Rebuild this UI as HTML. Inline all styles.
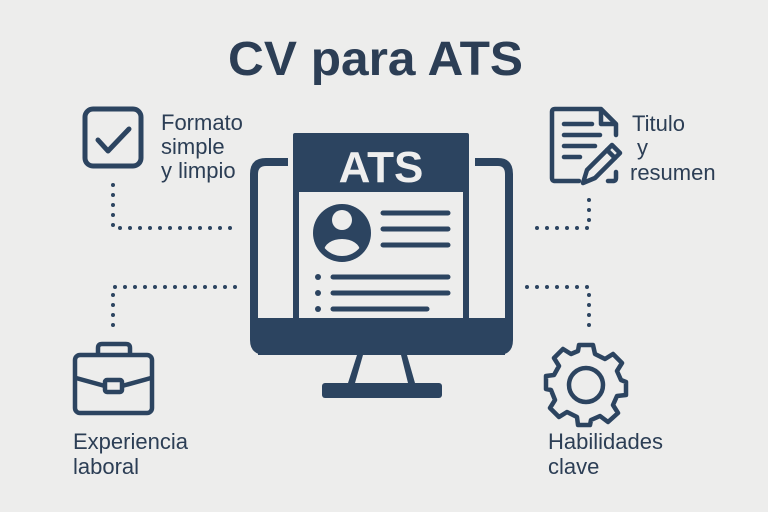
<!DOCTYPE html>
<html><head><meta charset="utf-8"><style>
html,body{margin:0;padding:0;background:#ededec;}
svg{display:block;}
text{font-family:"Liberation Sans",sans-serif;fill:#2c3e55;}
</style></head><body>
<svg width="768" height="512" viewBox="0 0 768 512" xmlns="http://www.w3.org/2000/svg">
<rect width="768" height="512" fill="#ededec"/>
<text x="228" y="75" font-size="48" font-weight="bold" textLength="295" lengthAdjust="spacingAndGlyphs">CV para ATS</text>

<!-- monitor -->
<g fill="#2c4460" stroke="none">
  <path d="M288 158 H266 Q250 158 250 174 V340 Q250 355 266 355 H498 Q513 355 513 340 V174 Q513 158 498 158 H475 V166 H498 Q505 166 505 174 V318 H258 V174 Q258 166 266 166 H288 Z"/>
  <rect x="258" y="318" width="247" height="37"/>
  <polygon points="357,355 363,355 355,383 348,383"/>
  <polygon points="401,355 407,355 415,383 408,383"/>
  <rect x="322" y="383" width="120" height="15" rx="3"/>
  <path d="M295 133 H467 Q469 133 469 135 V318 H463 V192 H299 V318 H293 V135 Q293 133 295 133 Z"/>
  <circle cx="342" cy="233" r="29"/>
</g>
<text x="381" y="182" font-size="44" font-weight="bold" text-anchor="middle" style="fill:#eeeeee">ATS</text>
<clipPath id="av"><circle cx="342" cy="233" r="23"/></clipPath>
<g fill="#ededec">
  <circle cx="342" cy="220" r="10"/>
  <ellipse cx="342" cy="251" rx="18" ry="12" clip-path="url(#av)"/>
</g>
<g stroke="#2c4460" stroke-width="5" stroke-linecap="round">
  <line x1="383" y1="213" x2="448" y2="213"/>
  <line x1="383" y1="229" x2="448" y2="229"/>
  <line x1="383" y1="245" x2="448" y2="245"/>
  <line x1="333" y1="277" x2="448" y2="277"/>
  <line x1="333" y1="293" x2="448" y2="293"/>
  <line x1="333" y1="309" x2="427" y2="309"/>
</g>
<g fill="#2c4460">
  <circle cx="318" cy="277" r="3"/><circle cx="318" cy="293" r="3"/><circle cx="318" cy="309" r="3"/>
</g>

<!-- dotted connectors -->
<g stroke="#2c4460" stroke-width="4" stroke-linecap="round" stroke-dasharray="0 10" fill="none">
  <path d="M113 185 V228 H235"/>
  <path d="M235 287 H113 V330"/>
  <path d="M589 200 V228 H527"/>
  <path d="M527 287 H589 V330"/>
</g>

<!-- checkbox -->
<g fill="none" stroke="#2c4460" stroke-width="5" stroke-linecap="round" stroke-linejoin="round">
  <rect x="85" y="109" width="56" height="57" rx="8"/>
  <polyline points="98,140 108,151 129,129"/>
</g>
<text font-size="22"><tspan x="161" y="130">Formato</tspan><tspan x="161" y="154">simple</tspan><tspan x="161" y="178">y limpio</tspan></text>

<!-- briefcase -->
<g fill="none" stroke="#2c4460" stroke-width="4.5" stroke-linejoin="round">
  <rect x="75" y="355" width="77" height="58" rx="5"/>
  <path d="M98 355 V348 Q98 344 102 344 H126 Q130 344 130 348 V355"/>
  <path d="M76 378 L105 386 M122 386 L151 378"/>
  <rect x="105" y="380" width="17" height="12" rx="2"/>
</g>
<text font-size="22"><tspan x="73" y="449">Experiencia</tspan><tspan x="73" y="474">laboral</tspan></text>

<!-- doc with pencil -->
<g fill="none" stroke="#2c4460" stroke-width="4.5" stroke-linecap="round" stroke-linejoin="round">
  <path d="M579 181 H555 Q552 181 552 178 V112 Q552 109 555 109 H601 L616 124 V135"/>
  <path d="M601 110 V124 H615"/>
  <path d="M616 172 V178 Q616 181 613 181 H608"/>
  <line x1="564" y1="124" x2="592" y2="124"/>
  <line x1="564" y1="135" x2="600" y2="135"/>
  <line x1="564" y1="146" x2="595" y2="146"/>
  <line x1="564" y1="157" x2="580" y2="157"/>
  <path d="M583 183 L587 170 L612 145 L620 153 L595 178 Z"/>
  <line x1="607" y1="150" x2="615" y2="158"/>
</g>
<text font-size="22"><tspan x="632" y="131">Titulo</tspan><tspan x="637" y="155">y</tspan><tspan x="630" y="180">resumen</tspan></text>

<!-- gear -->
<g fill="none" stroke="#2c4460" stroke-width="4.5" stroke-linejoin="round" transform="translate(586,385)">
  <path d="M-7,-40 L7,-40 L9,-31 L19,-26 L27,-31 L36,-22 L31,-14 L35,-5 L40,-3 L40,10 L31,11 L27,20 L32,28 L22,37 L14,31 L5,35 L4,40 L-8,40 L-9,32 L-19,27 L-27,32 L-36,23 L-31,15 L-35,5 L-40,4 L-40,-9 L-32,-10 L-27,-19 L-32,-27 L-23,-36 L-15,-31 L-8,-34 Z"/>
  <circle r="17"/>
</g>
<text font-size="22"><tspan x="548" y="449">Habilidades</tspan><tspan x="548" y="474">clave</tspan></text>
</svg>
</body></html>
